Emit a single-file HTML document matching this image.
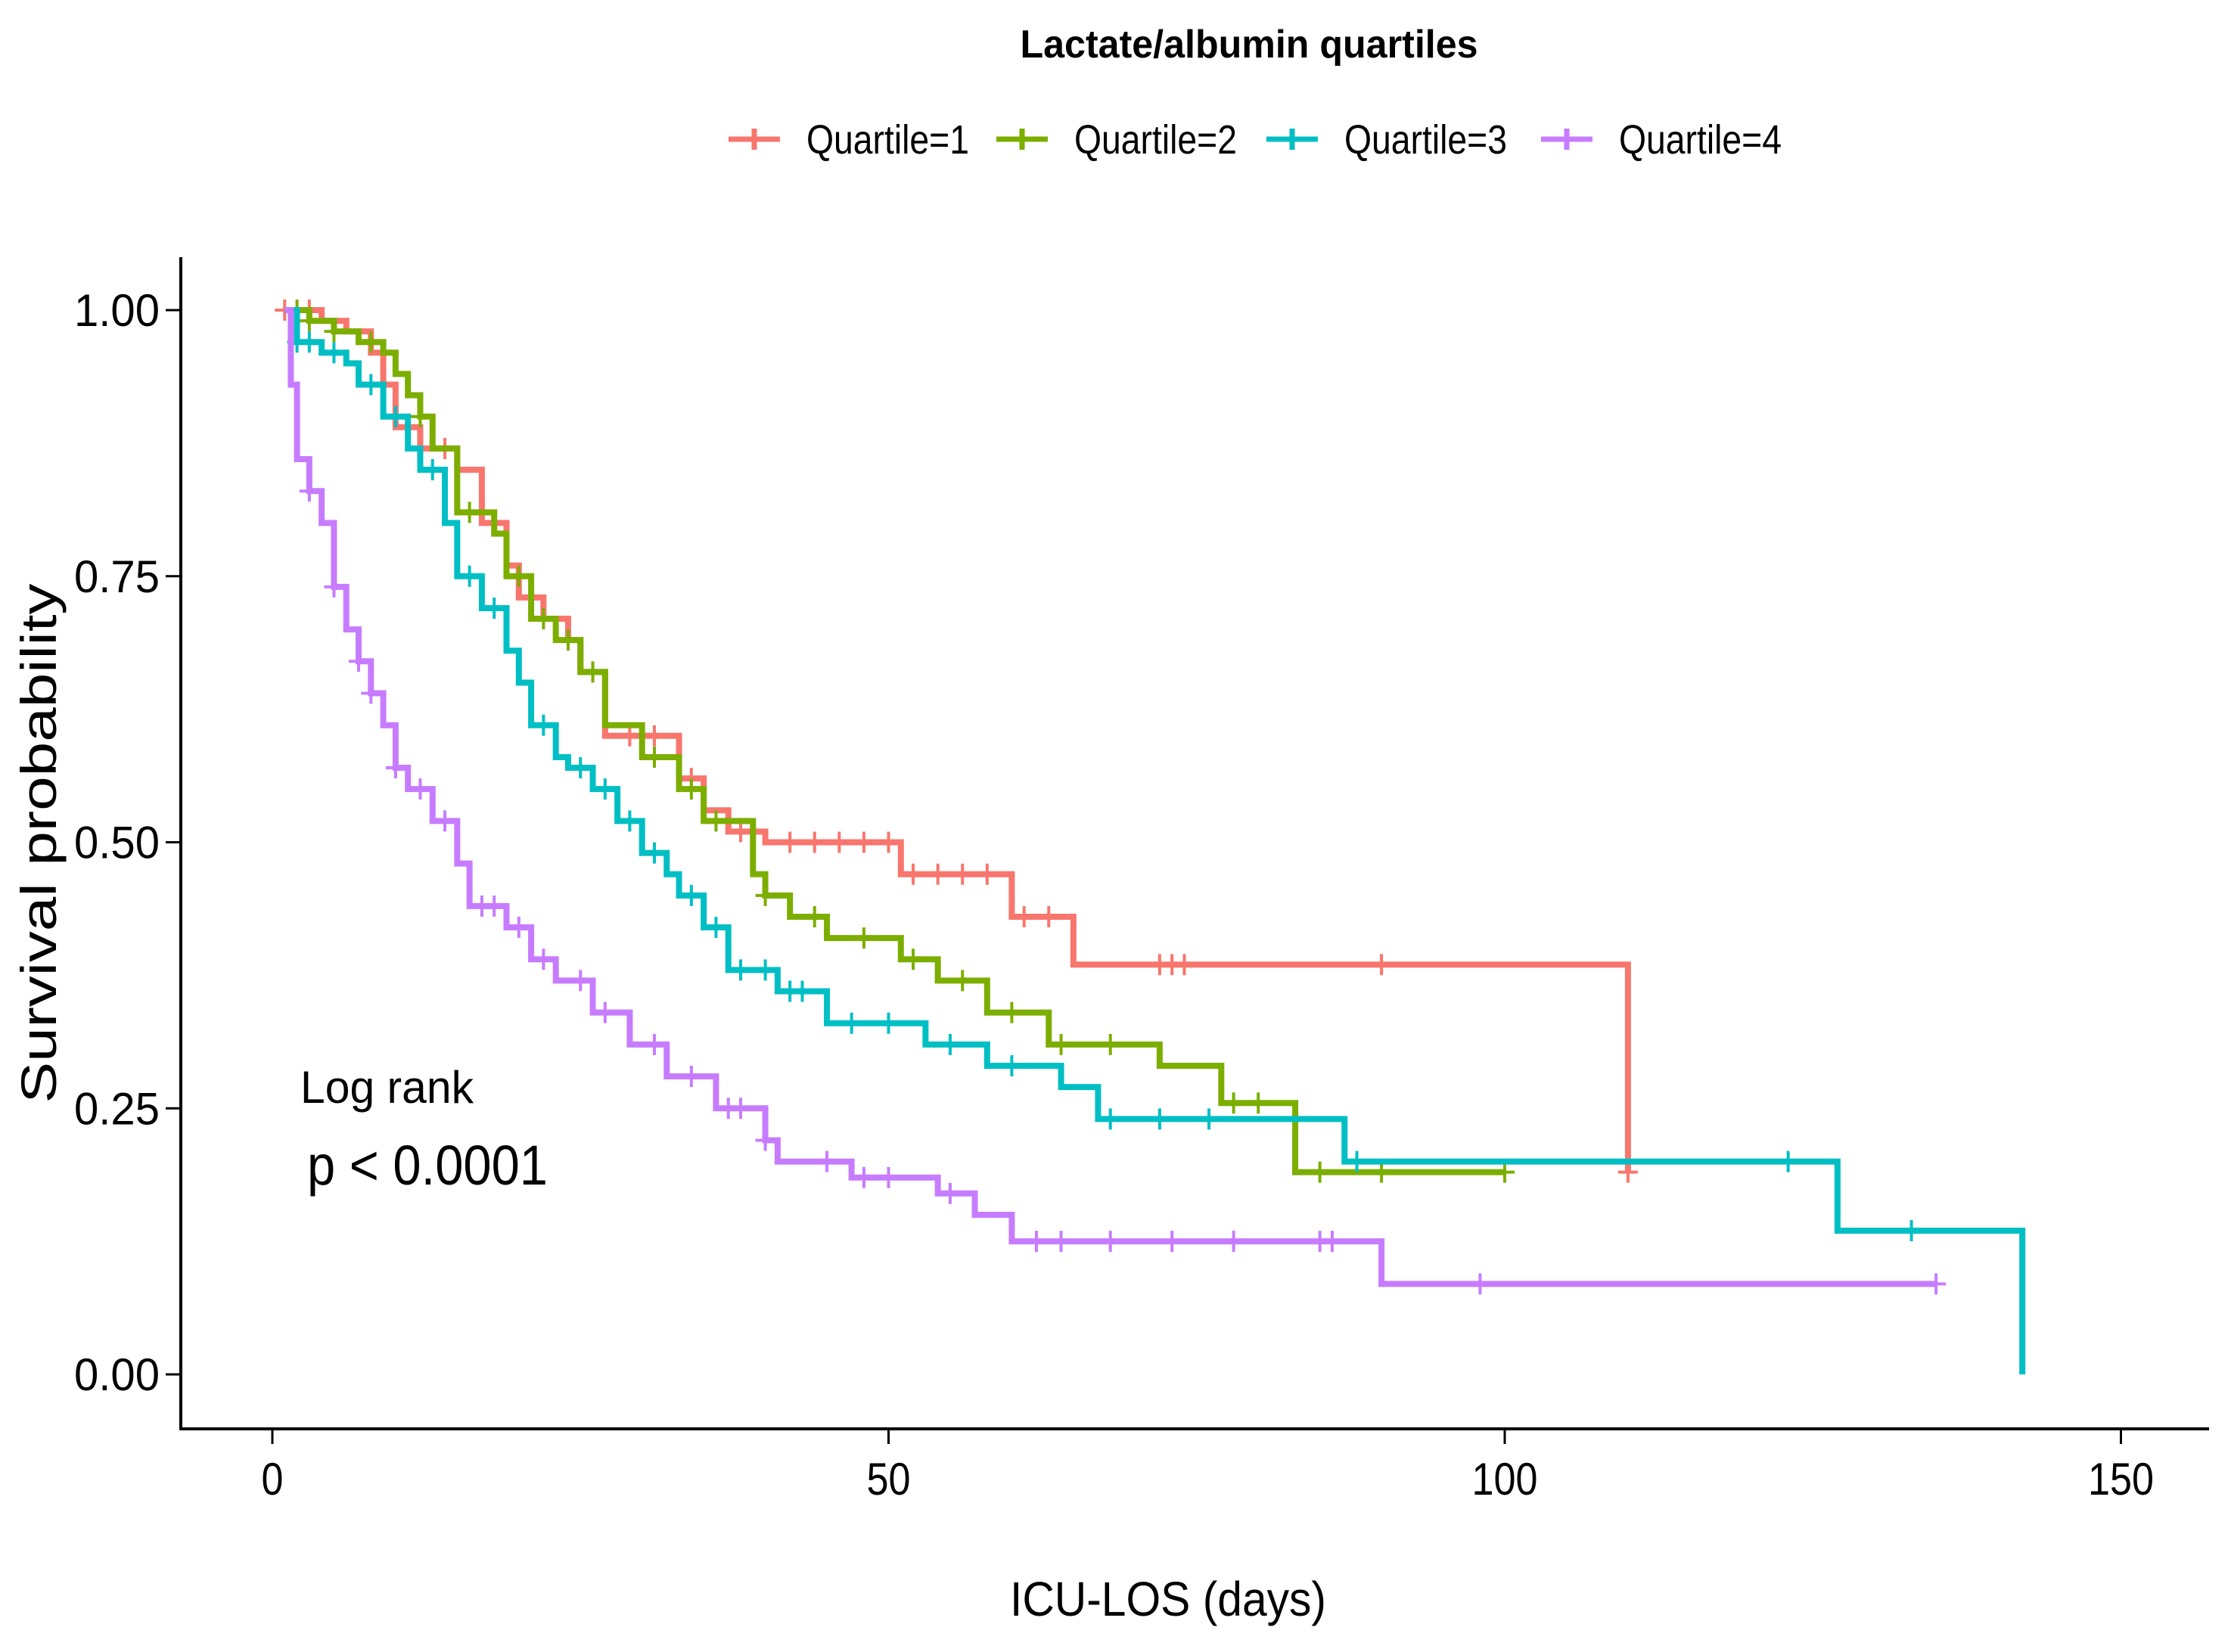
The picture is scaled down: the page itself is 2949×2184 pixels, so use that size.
<!DOCTYPE html>
<html><head><meta charset="utf-8"><style>
html,body{margin:0;padding:0;background:#fff;}
svg{display:block;}
text{font-family:"Liberation Sans",sans-serif;fill:#000;}
</style></head><body>
<svg id="chart" width="2949" height="2184" viewBox="0 0 2949 2184">
<text x="1651" y="76" text-anchor="middle" font-size="52" font-weight="bold" textLength="605" lengthAdjust="spacingAndGlyphs">Lactate/albumin quartiles</text>
<g id="legend"></g>
<g id="plot"></g>
<line x1="239" y1="340" x2="239" y2="1891" stroke="#000" stroke-width="4"/>
<line x1="237" y1="1889" x2="2920" y2="1889" stroke="#000" stroke-width="4"/>
<g id="axes"></g>
<text x="0" y="0" transform="translate(74,1115) rotate(-90)" text-anchor="middle" font-size="66" textLength="687" lengthAdjust="spacingAndGlyphs">Survival probability</text>
<text x="1544" y="2136" text-anchor="middle" font-size="64" textLength="418" lengthAdjust="spacingAndGlyphs">ICU-LOS (days)</text>
<text x="397" y="1458" font-size="60" textLength="229" lengthAdjust="spacingAndGlyphs">Log rank</text>
<text x="406" y="1566" font-size="74" textLength="318" lengthAdjust="spacingAndGlyphs">p &lt; 0.0001</text>
</svg>
<script>
const xTicks=[0,50,100,150];
const yTicks=[0,0.25,0.5,0.75,1];
const yTickLabels=["0.00","0.25","0.50","0.75","1.00"];
const seriesNames=["Quartile=1","Quartile=2","Quartile=3","Quartile=4"];
const seriesColors=["#F8766D","#7CAE00","#00BFC4","#C77CFF"];
const q1Times=[1,4,6,8,9,10,12,15,17,19,20,22,24,25,27,33,35,37,40,51,60,65,110];
const q1Surv=[1,0.99,0.98,0.96,0.93,0.89,0.87,0.85,0.80,0.76,0.73,0.71,0.69,0.66,0.60,0.56,0.53,0.51,0.50,0.47,0.43,0.385,0.19];
const q2Times=[1,3,5,7,9,10,11,12,13,15,18,19,21,23,25,27,30,33,35,39,40,42,45,51,54,58,63,72,77,83,100];
const q2Surv=[1,0.99,0.98,0.97,0.96,0.94,0.92,0.90,0.87,0.81,0.79,0.75,0.71,0.69,0.66,0.61,0.58,0.55,0.52,0.47,0.45,0.43,0.41,0.39,0.37,0.34,0.31,0.29,0.255,0.19,0.19];
const q3Times=[1,2,4,6,7,9,11,12,14,15,17,19,20,21,23,24,26,28,30,32,33,35,37,41,45,53,58,64,67,87,127,142];
const q3Surv=[1,0.97,0.96,0.95,0.93,0.90,0.87,0.85,0.80,0.75,0.72,0.68,0.65,0.61,0.58,0.57,0.55,0.52,0.49,0.47,0.45,0.42,0.38,0.36,0.33,0.31,0.29,0.27,0.24,0.20,0.135,0];
const q4Times=[1,1.5,2,3,4,5,6,7,8,9,10,11,13,15,16,19,21,23,26,29,32,36,40,41,47,54,57,60,90,135];
const q4Surv=[1,0.93,0.86,0.83,0.80,0.74,0.70,0.67,0.64,0.61,0.57,0.55,0.52,0.48,0.44,0.42,0.39,0.37,0.34,0.31,0.28,0.25,0.22,0.20,0.185,0.17,0.15,0.125,0.085,0.085];
const q1Cens=[1,3,9,14,18,21,26,29,31,34,38,42,44,46,48,50,52,54,56,58,61,63,72,73,74,90,110];
const q2Cens=[2,3,5,8,12,16,20,22,24,26,31,34,36,40,44,48,52,56,60,64,68,78,80,85,90,100];
const q3Cens=[2,3,5,8,10,13,16,18,22,25,27,29,31,34,36,38,40,42,43,47,50,55,60,68,72,76,88,123,133];
const q4Cens=[3,5,7,8,10,12,14,17,18,20,22,25,27,31,34,37,38,40,45,48,50,55,62,64,68,73,78,85,86,98,135];
const timesArr=[q1Times,q2Times,q3Times,q4Times];
const survArr=[q1Surv,q2Surv,q3Surv,q4Surv];
const censArr=[q1Cens,q2Cens,q3Cens,q4Cens];

const NS="http://www.w3.org/2000/svg";
function xs(d){return 360+d*16.29;}
function ys(p){return 1817-p*1407;}
function mk(tag,attrs,parent){const e=document.createElementNS(NS,tag);for(const k in attrs)e.setAttribute(k,attrs[k]);parent.appendChild(e);return e;}
const axes=document.getElementById('axes');
xTicks.forEach(t=>{
  const l=mk('line',{x1:xs(t),x2:xs(t),y1:1889,y2:1909,stroke:'#000','stroke-width':3},axes);
  
  
  const s=String(t);
  const tx=mk('text',{x:xs(t),y:1976,'text-anchor':'middle','font-size':60,textLength:s.length*29,lengthAdjust:'spacingAndGlyphs'},axes);
  tx.textContent=s;
  
  
});
yTicks.forEach((t,i)=>{
  const l=mk('line',{x1:219,x2:239,y1:ys(t),y2:ys(t),stroke:'#000','stroke-width':3},axes);
  
  
  const tx=mk('text',{x:211,y:ys(t)+21,'text-anchor':'end','font-size':60,textLength:113,lengthAdjust:'spacingAndGlyphs'},axes);
  tx.textContent=yTickLabels[i];
  
  
});
function survAt(ti,su,t){let s=su[0];for(let i=0;i<ti.length;i++){if(ti[i]<=t)s=su[i];}return s;}
const plot=document.getElementById('plot');
timesArr.forEach((ti,k)=>{
  const su=survArr[k];
  let d='M'+xs(ti[0])+','+ys(su[0]);
  for(let i=1;i<ti.length;i++){d+=' H'+xs(ti[i])+' V'+ys(su[i]);}
  const p=mk('path',{d:d,fill:'none',stroke:seriesColors[k],'stroke-width':8,'stroke-linejoin':'miter'},plot);
  
  
  censArr[k].forEach(c=>{
    const x=xs(c),y=ys(survAt(ti,su,c));
    const g=mk('path',{d:'M'+(x-13)+','+y+' H'+(x+13)+' M'+x+','+(y-14)+' V'+(y+14),stroke:seriesColors[k],'stroke-width':4},plot);
    
    
  });
});
const legend=document.getElementById('legend');
const lx=[963,1317,1674,2037];
seriesNames.forEach((n,k)=>{
  const l=mk('path',{d:'M'+lx[k]+',184 H'+(lx[k]+68)+' M'+(lx[k]+34)+',170 V198',stroke:seriesColors[k],'stroke-width':7},legend);
  
  
  const t=mk('text',{x:lx[k]+103,y:203,'font-size':54,textLength:215,lengthAdjust:'spacingAndGlyphs'},legend);
  t.textContent=n;
  
  
});
</script>
</body></html>
